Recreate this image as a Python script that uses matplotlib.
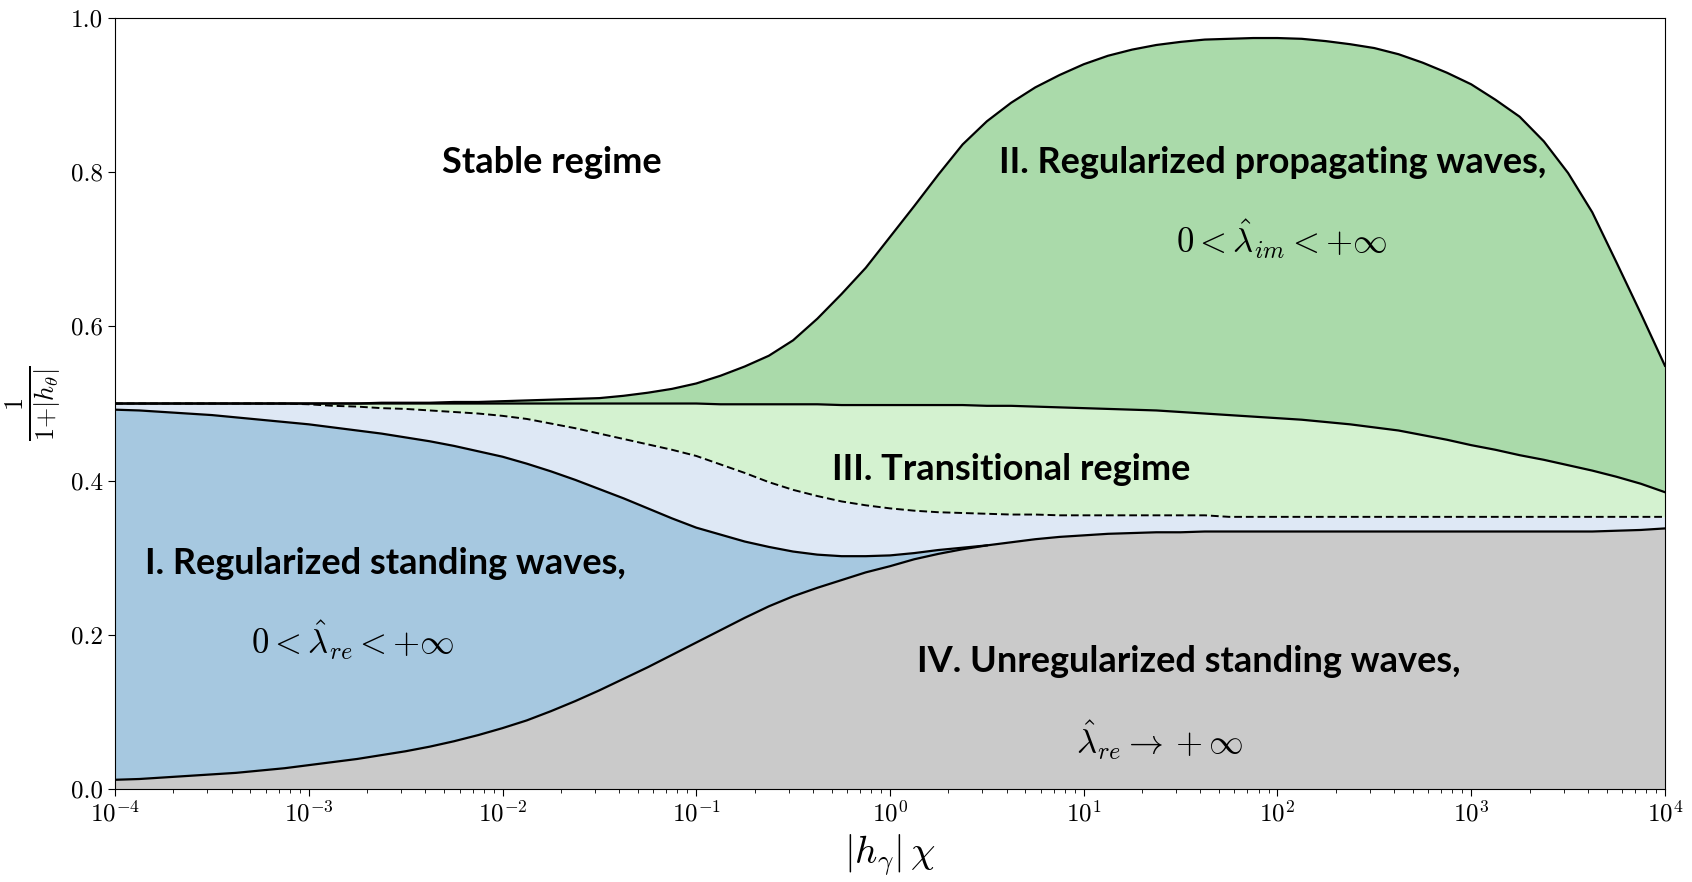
import numpy as np
import matplotlib
matplotlib.use("Agg")
import matplotlib.pyplot as plt

plt.rcParams['font.family'] = 'serif'
plt.rcParams['font.serif'] = ['cmr10']
plt.rcParams['mathtext.fontset'] = 'cm'
plt.rcParams['axes.formatter.use_mathtext'] = True

# exponents of |h_gamma| chi, read on a 1/8-decade grid (-4 ... 4)
log_x = np.linspace(-4, 4, 65)
x = 10.0 ** log_x

# upper boundary of region II (one row per decade)
top = [0.500, 0.500, 0.500, 0.500, 0.500, 0.500, 0.500, 0.500,
       0.500, 0.500, 0.500, 0.501, 0.501, 0.501, 0.502, 0.502,
       0.503, 0.504, 0.505, 0.506, 0.507, 0.510, 0.514, 0.519,
       0.526, 0.536, 0.548, 0.562, 0.582, 0.610, 0.642, 0.676,
       0.716, 0.756, 0.797, 0.836, 0.866, 0.890, 0.910, 0.926,
       0.940, 0.951, 0.959, 0.965, 0.969, 0.972, 0.973, 0.974,
       0.974, 0.973, 0.970, 0.966, 0.961, 0.953, 0.942, 0.929,
       0.914, 0.894, 0.872, 0.840, 0.799, 0.748, 0.683, 0.617,
       0.549]

# boundary between II and III
middle = [0.500, 0.500, 0.500, 0.500, 0.500, 0.500, 0.500, 0.500,
          0.500, 0.500, 0.500, 0.500, 0.500, 0.500, 0.500, 0.500,
          0.500, 0.500, 0.500, 0.500, 0.500, 0.500, 0.500, 0.500,
          0.500, 0.499, 0.499, 0.499, 0.499, 0.499, 0.498, 0.498,
          0.498, 0.498, 0.498, 0.498, 0.497, 0.497, 0.496, 0.495,
          0.494, 0.493, 0.492, 0.491, 0.489, 0.487, 0.485, 0.483,
          0.481, 0.479, 0.476, 0.473, 0.469, 0.465, 0.459, 0.453,
          0.446, 0.440, 0.433, 0.427, 0.420, 0.413, 0.405, 0.396,
          0.385]

# dashed line inside the transitional regime
dashed = [0.500, 0.500, 0.500, 0.500, 0.500, 0.500, 0.500, 0.500,
          0.499, 0.497, 0.496, 0.494, 0.493, 0.491, 0.489, 0.487,
          0.484, 0.480, 0.474, 0.468, 0.461, 0.454, 0.447, 0.440,
          0.432, 0.421, 0.410, 0.398, 0.388, 0.380, 0.373, 0.368,
          0.364, 0.361, 0.359, 0.358, 0.357, 0.356, 0.356, 0.355,
          0.355, 0.355, 0.355, 0.355, 0.355, 0.355, 0.353, 0.353,
          0.353, 0.353, 0.353, 0.353, 0.353, 0.353, 0.353, 0.353,
          0.353, 0.353, 0.353, 0.353, 0.353, 0.353, 0.353, 0.353,
          0.353]

# upper boundary of region I, up to where it joins the region IV curve
blue = [0.492, 0.491, 0.489, 0.487, 0.485, 0.482, 0.479, 0.476,
        0.473, 0.469, 0.465, 0.461, 0.456, 0.451, 0.445, 0.438,
        0.431, 0.422, 0.412, 0.401, 0.389, 0.377, 0.364, 0.351,
        0.339, 0.330, 0.321, 0.314, 0.308, 0.304, 0.302, 0.302,
        0.303, 0.306, 0.310, 0.313, 0.316]

# upper boundary of region IV
gray = [0.012, 0.013, 0.015, 0.017, 0.019, 0.021, 0.024, 0.027,
        0.031, 0.035, 0.039, 0.044, 0.049, 0.055, 0.062, 0.070,
        0.079, 0.089, 0.101, 0.114, 0.128, 0.143, 0.158, 0.174,
        0.190, 0.206, 0.222, 0.237, 0.250, 0.261, 0.271, 0.281,
        0.289, 0.298, 0.305, 0.311, 0.316, 0.320, 0.324, 0.327,
        0.329, 0.331, 0.332, 0.333, 0.333, 0.334, 0.334, 0.334,
        0.334, 0.334, 0.334, 0.334, 0.334, 0.334, 0.334, 0.334,
        0.334, 0.334, 0.334, 0.334, 0.334, 0.334, 0.335, 0.336,
        0.338]

top = np.array(top)
middle = np.array(middle)
dashed = np.array(dashed)
gray = np.array(gray)
nb = len(blue)
upper_I = np.maximum(np.concatenate([blue, gray[nb:]]), gray)

fig = plt.figure(figsize=(16.92, 8.82), dpi=100)
ax = fig.add_axes([0.068, 0.1054, 0.916, 0.8742])

ax.fill_between(x, 0, gray, color='#cacaca', lw=0)
ax.fill_between(x, gray, upper_I, color='#a6c8e0', lw=0)
ax.fill_between(x, upper_I, dashed, color='#dee8f5', lw=0)
ax.fill_between(x, dashed, middle, color='#d4f2d0', lw=0)
ax.fill_between(x, middle, top, color='#aadaaa', lw=0)

ax.plot(x, dashed, color='black', lw=1.4, ls=(0, (4, 2)))
ax.plot(x, gray, color='black', lw=1.6)
ax.plot(x[:nb], blue, color='black', lw=1.6)
ax.plot(x, middle, color='black', lw=1.6)
ax.plot(x, top, color='black', lw=1.6)

ax.set_xscale('log')
ax.set_xlim(1e-4, 1e4)
ax.set_ylim(0, 1)
ax.set_yticks([0.0, 0.2, 0.4, 0.6, 0.8, 1.0])
ax.set_yticklabels(['0.0', '0.2', '0.4', '0.6', '0.8', '1.0'])
ax.tick_params(axis='both', which='major', labelsize=18, length=5)
ax.tick_params(axis='x', which='minor', length=3)

ax.set_xlabel(r'$|h_\gamma|\,\chi$', fontsize=28, labelpad=4)
ax.set_ylabel(r'$\frac{1}{1{+}|h_\theta|}$', fontsize=27, labelpad=6)

bold = dict(fontfamily='Lato', fontweight='bold', fontsize=26,
            ha='center', va='center')
ax.text(10 ** -1.744, 0.813, 'Stable regime', **bold)
ax.text(10 ** 1.977, 0.813, 'II. Regularized propagating waves,', **bold)
ax.text(10 ** 0.624, 0.415, 'III. Transitional regime', **bold)
ax.text(10 ** -2.607, 0.293, 'I. Regularized standing waves,', **bold)
ax.text(10 ** 1.543, 0.165, 'IV. Unregularized standing waves,', **bold)

math = dict(fontsize=25, ha='center', va='center')
ax.text(10 ** 2.02, 0.713, r'$0 < \hat{\lambda}_{im} < +\infty$', **math)
ax.text(10 ** -2.772, 0.193, r'$0 < \hat{\lambda}_{re} < +\infty$', **math)
ax.text(10 ** 1.39, 0.064, r'$\hat{\lambda}_{re} \rightarrow +\infty$', **math)

fig.savefig('out.png', dpi=100)
